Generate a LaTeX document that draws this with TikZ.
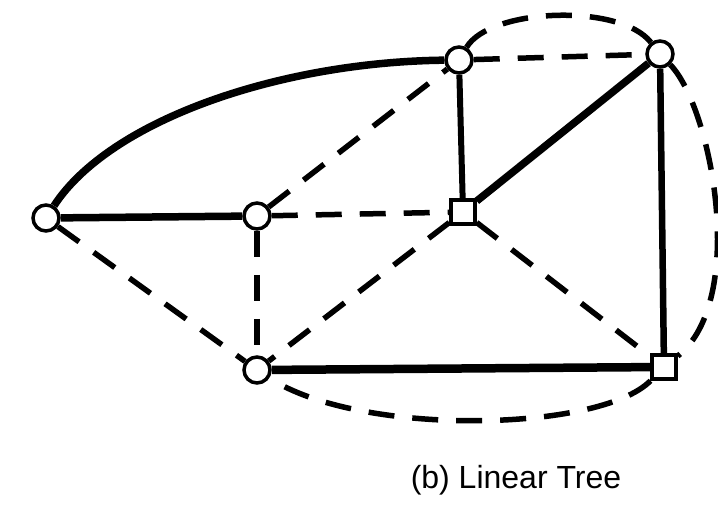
\documentclass[tikz,border=0pt]{standalone}
\usepackage{fontspec}
\setmainfont{Liberation Sans}
\begin{document}
\begin{tikzpicture}[x=1pt, y=-1pt,
  vtx/.style={draw, circle, line width=3.5pt, fill=white, inner sep=0pt, minimum size=26pt},
  sqv/.style={draw, rectangle, line width=3.5pt, fill=white, inner sep=0pt, minimum size=24pt},
  tree/.style={line width=7.5pt},
  dsh/.style={line width=5.5pt, dash pattern=on 26pt off 18pt}]
\useasboundingbox (0,0) rectangle (718,507);
\node[vtx] (a) at (46,218) {};
\node[vtx] (b) at (257,216) {};
\node[vtx] (c) at (459,60) {};
\node[vtx] (d) at (660,54) {};
\node[sqv] (e) at (463,212) {};
\node[vtx] (f) at (257,370) {};
\node[sqv] (g) at (664,367) {};
% spanning tree
\draw[tree] (a) -- (b);
\draw[tree] (a) .. controls (110,120) and (280,62) .. (c);
\draw[tree, line width=6pt] (c) -- (e);
\draw[tree] (e) -- (d);
\draw[tree, line width=6.5pt] (d) -- (g);
\draw[tree, line width=8.5pt] (f) -- (g);
% remaining edges
\draw[dsh] (c) -- (d);
\draw[dsh] (b) -- (e);
\draw[dsh] (b) -- (c);
\draw[dsh] (b) -- (f);
\draw[dsh] (a) -- (f);
\draw[dsh] (e) -- (f);
\draw[dsh] (e) -- (g);
\draw[dsh] (c) .. controls (490,8) and (620,3) .. (d)
  .. controls (712,108) and (748,300) .. (g)
  .. controls (600,432) and (360,437) .. (f);
\node[font=\fontsize{32}{36}\selectfont] (cap) at (516,480) {(b) Linear Tree};
\end{tikzpicture}
\end{document}
